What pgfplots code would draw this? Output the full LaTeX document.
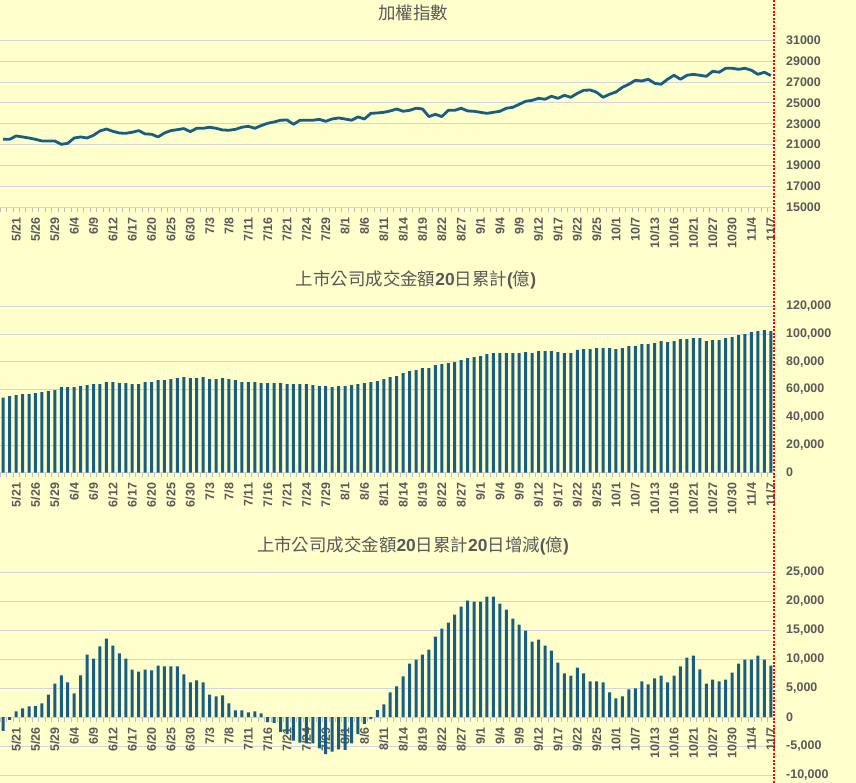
\documentclass[border=0pt]{standalone}
\usepackage{pgfplots}
\pgfplotsset{compat=1.18}
\usepackage{pgfplotstable}
\usepackage{fontspec}
\setmainfont{Liberation Sans}
\newfontfamily\cjk{Noto Sans CJK TC}
\definecolor{bg}{RGB}{255,255,204}
\definecolor{bluec}{RGB}{24,94,132}
\definecolor{gridc}{RGB}{212,212,222}
\definecolor{txt}{RGB}{89,89,89}
\definecolor{tickc}{RGB}{190,190,190}
\definecolor{redc}{RGB}{255,0,0}
\newcommand\tl{\fontsize{12.5}{14}\selectfont\bfseries}

\pgfplotstableread{
i v
0 21515
1 21515
2 21835
3 21740
4 21640
5 21515
6 21355
7 21355
8 21355
9 21035
10 21130
11 21640
12 21740
13 21640
14 21900
15 22315
16 22500
17 22280
18 22120
19 22090
20 22190
21 22350
22 22030
23 22000
24 21740
25 22120
26 22350
27 22440
28 22540
29 22250
30 22570
31 22570
32 22670
33 22570
34 22410
35 22380
36 22470
37 22670
38 22760
39 22570
40 22830
41 23050
42 23180
43 23340
44 23370
45 22950
46 23340
47 23340
48 23340
49 23430
50 23240
51 23460
52 23560
53 23460
54 23340
55 23660
56 23460
57 24000
58 24040
59 24100
60 24230
61 24420
62 24200
63 24290
64 24490
65 24420
66 23690
67 23910
68 23690
69 24290
70 24290
71 24490
72 24230
73 24200
74 24100
75 24000
76 24100
77 24200
78 24490
79 24580
80 24870
81 25160
82 25250
83 25440
84 25350
85 25640
86 25440
87 25730
88 25540
89 25920
90 26210
91 26240
92 26020
93 25540
94 25830
95 26050
96 26500
97 26790
98 27170
99 27100
100 27270
101 26880
102 26790
103 27270
104 27650
105 27270
106 27650
107 27740
108 27650
109 27550
110 28030
111 27940
112 28320
113 28320
114 28220
115 28320
116 28130
117 27740
118 27940
119 27620
}\taiex

\pgfplotstableread{
i v
0 54090
1 55300
2 56000
3 56700
4 56700
5 57450
6 58180
7 58900
8 59600
9 61800
10 61800
11 61800
12 62500
13 63200
14 63950
15 63950
16 65400
17 65400
18 64670
19 64670
20 63950
21 63950
22 65400
23 65400
24 66830
25 66830
26 67550
27 68270
28 69000
29 68270
30 68270
31 69000
32 67550
33 67550
34 68270
35 67550
36 66830
37 65400
38 65400
39 65400
40 64670
41 64670
42 64670
43 64670
44 63950
45 63950
46 63950
47 63950
48 63200
49 62500
50 62500
51 61800
52 62500
53 62500
54 63200
55 63950
56 64670
57 65400
58 66100
59 67550
60 69000
61 69700
62 71900
63 73300
64 74000
65 75500
66 75500
67 77650
68 78370
69 79100
70 79800
71 81250
72 82700
73 83400
74 84100
75 85600
76 86300
77 86300
78 86300
79 86300
80 86300
81 87000
82 86300
83 87750
84 87750
85 87750
86 87000
87 86300
88 86300
89 88500
90 89200
91 89200
92 89900
93 89900
94 89900
95 89200
96 89900
97 91350
98 91350
99 92800
100 92800
101 93500
102 94950
103 94200
104 94950
105 96400
106 96400
107 97100
108 97100
109 94950
110 95700
111 95700
112 97100
113 97850
114 99300
115 100000
116 101450
117 102170
118 102900
119 102170
}\vol

\pgfplotstableread{
i v
0 -2400
1 -460
2 980
3 1500
4 1840
5 1900
6 2360
7 3900
8 5800
9 7200
10 6000
11 4080
12 7200
13 10800
14 10100
15 12200
16 13560
17 12360
18 11000
19 10100
20 8200
21 7870
22 8200
23 8050
24 8900
25 8740
26 8740
27 8740
28 7360
29 5980
30 6320
31 5980
32 3900
33 3560
34 3740
35 2360
36 1150
37 1150
38 800
39 1000
40 650
41 -850
42 -1000
43 -2550
44 -2960
45 -4060
46 -4400
47 -4520
48 -4520
49 -5400
50 -6380
51 -5970
52 -5570
53 -5680
54 -4520
55 -2960
56 -1160
57 -350
58 1200
59 2200
60 4250
61 5290
62 7010
63 9250
64 9940
65 10800
66 11670
67 13900
68 15290
69 16320
70 17700
71 19080
72 20115
73 19940
74 19940
75 20800
76 20800
77 19600
78 18560
79 17010
80 15980
81 14940
82 13050
83 13390
84 12360
85 11490
86 9425
87 7530
88 7180
89 8560
90 7530
91 6150
92 6150
93 5980
94 4250
95 3220
96 3560
97 4770
98 4940
99 6150
100 5630
101 6670
102 7180
103 5980
104 7180
105 8740
106 10290
107 10630
108 8220
109 5800
110 6490
111 6150
112 6490
113 7700
114 9250
115 9940
116 9940
117 10630
118 9940
119 8900
}\diff

\pgfplotsset{
  panel/.style={
    scale only axis, width=774bp,
    xmin=-0.5, xmax=119.5,
    scaled y ticks=false, scaled x ticks=false,
    xtick={2,5,...,119},
    xticklabels={5/21,5/26,5/29,6/4,6/9,6/12,6/17,6/20,6/25,6/30,7/3,7/8,7/11,7/16,7/21,7/24,7/29,8/1,8/6,8/11,8/14,8/19,8/22,8/27,9/1,9/4,9/9,9/12,9/17,9/22,9/25,10/1,10/7,10/13,10/16,10/21,10/27,10/30,11/4,11/7},
    minor xtick={-0.5,0.5,...,119.5},
    major tick length=0pt,
    minor tick length=4.5bp,
    tick align=outside,
    minor tick style={draw=tickc, line width=0.8bp},
    xticklabel style={rotate=90, anchor=east, font=\tl, text=txt, inner sep=0pt},
    xticklabel shift=10bp,
    yticklabel pos=right,
    yticklabel style={anchor=west, font=\tl, text=txt, inner sep=0pt, xshift=12bp},
    ymajorgrids, grid style={draw=gridc, line width=0.9bp},
    axis x line*=bottom,
    axis y line*=right,
    y axis line style={draw=none},
    x axis line style={draw=gridc, line width=0.9bp, -},
  },
}

\begin{document}
\begin{tikzpicture}
\path[use as bounding box, fill=bg] (0,0) rectangle (856bp,-783bp);

\begin{axis}[panel, at={(0bp,-207.3bp)}, anchor=south west, height=167bp,
  ymin=15000, ymax=31000, ytick={15000,17000,...,31000},
  yticklabels={15000,17000,19000,21000,23000,25000,27000,29000,31000}]
\addplot[bluec, line width=2.8bp, line join=round, mark=none] table[x=i,y=v]{\taiex};
\end{axis}

\begin{axis}[panel, at={(0bp,-472.7bp)}, anchor=south west, height=166.4bp,
  ymin=0, ymax=120000, ytick={0,20000,...,120000},
  yticklabels={0,{20,000},{40,000},{60,000},{80,000},{100,000},{120,000}}]
\addplot[ybar, bar width=3bp, bar shift=0pt, fill=bluec, draw=none] table[x=i,y=v]{\vol};
\end{axis}

\begin{axis}[panel, at={(0bp,-775bp)}, anchor=south west, height=202.7bp,
  axis x line*=middle,
  ymin=-10000, ymax=25000, ytick={-10000,-5000,...,25000},
  yticklabels={{-10,000},{-5,000},0,{5,000},{10,000},{15,000},{20,000},{25,000}}]
\addplot[ybar, bar width=3bp, bar shift=0pt, fill=bluec, draw=none] table[x=i,y=v]{\diff};
\end{axis}

\node[text=txt, font=\cjk\fontsize{17.5}{19}\selectfont] at (413bp,-13bp) {加權指數};
\node[text=txt, font=\cjk\fontsize{17.5}{19}\selectfont] at (416bp,-280bp) {上市公司成交金額{\rmfamily\bfseries 20}日累計{\rmfamily\bfseries (}億{\rmfamily\bfseries )}};
\node[text=txt, font=\cjk\fontsize{17.5}{19}\selectfont] at (413bp,-546bp) {上市公司成交金額{\rmfamily\bfseries 20}日累計{\rmfamily\bfseries 20}日增減{\rmfamily\bfseries (}億{\rmfamily\bfseries )}};

\draw[redc, line width=2bp, dash pattern=on 2bp off 1.5bp] (773.5bp,0) -- (773.5bp,-783bp);
\end{tikzpicture}
\end{document}
